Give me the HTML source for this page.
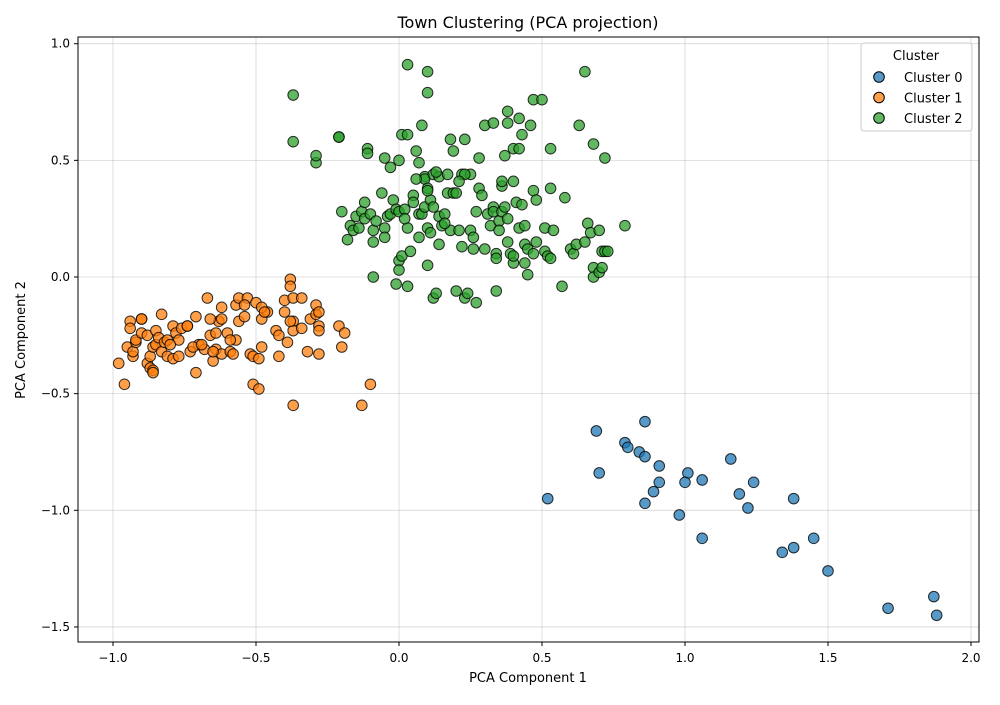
<!DOCTYPE html>
<html><head><meta charset="utf-8"><style>
body{margin:0;background:#fff;font-family:"Liberation Sans","DejaVu Sans",sans-serif}
svg text{font-family:"DejaVu Sans","Liberation Sans",sans-serif}
</style></head><body>
<svg id="chart" width="1000" height="700" viewBox="0 0 1000 700" xmlns="http://www.w3.org/2000/svg">
<rect width="1000" height="700" fill="#fff"/>
<g id="grid"></g>
<g id="points"></g>
<rect x="78" y="37" width="901" height="605" fill="none" stroke="#000" stroke-width="1"/>
<g id="axes"></g>
<text x="528" y="28" text-anchor="middle" font-size="16">Town Clustering (PCA projection)</text>
<text x="528" y="682" text-anchor="middle" font-size="13">PCA Component 1</text>
<text transform="translate(25,340) rotate(-90)" text-anchor="middle" font-size="13">PCA Component 2</text>
<g id="legend">
<rect x="861" y="43" width="111" height="88" rx="3" fill="#fff" fill-opacity="0.8" stroke="#ccc"/>
<text x="916" y="60" text-anchor="middle" font-size="13">Cluster</text>
</g>
</svg>
<script>
const xTicks=[-1.0,-0.5,0.0,0.5,1.0,1.5,2.0];
const yTicks=[1.0,0.5,0.0,-0.5,-1.0,-1.5];
const seriesNames=["Cluster 0","Cluster 1","Cluster 2"];
const seriesColors=["#1f77b4","#ff7f0e","#2ca02c"];
const c0x=[0.52,0.69,0.70,0.79,0.80,0.84,0.86,0.86,0.86,0.89,0.91,0.91,0.98,1.01,1.00,1.06,1.06,1.16,1.19,1.24,1.22,1.34,1.38,1.45,1.50,1.38,1.71,1.87,1.88];
const c0y=[-0.95,-0.66,-0.84,-0.71,-0.73,-0.75,-0.62,-0.77,-0.97,-0.92,-0.81,-0.88,-1.02,-0.84,-0.88,-1.12,-0.87,-0.78,-0.93,-0.88,-0.99,-1.18,-1.16,-1.12,-1.26,-0.95,-1.42,-1.37,-1.45];
const c1x=[-0.98,-0.96,-0.95,-0.94,-0.94,-0.93,-0.93,-0.92,-0.92,-0.90,-0.90,-0.88,-0.88,-0.87,-0.87,-0.86,-0.86,-0.85,-0.85,-0.84,-0.83,-0.83,-0.82,-0.81,-0.81,-0.79,-0.79,-0.78,-0.77,-0.76,-0.74,-0.73,-0.71,-0.71,-0.70,-0.68,-0.67,-0.66,-0.65,-0.64,-0.64,-0.63,-0.62,-0.62,-0.60,-0.59,-0.58,-0.57,-0.57,-0.56,-0.56,-0.54,-0.53,-0.52,-0.51,-0.51,-0.50,-0.49,-0.49,-0.48,-0.48,-0.46,-0.43,-0.42,-0.42,-0.40,-0.39,-0.38,-0.38,-0.37,-0.37,-0.37,-0.37,-0.34,-0.34,-0.32,-0.31,-0.29,-0.29,-0.28,-0.28,-0.28,-0.21,-0.20,-0.19,-0.10,-0.13,-0.54,-0.66,-0.77,-0.48,-0.40,-0.38,-0.90,-0.86,-0.80,-0.74,-0.72,-0.69,-0.65,-0.62,-0.59,-0.47,-0.28];
const c1y=[-0.37,-0.46,-0.30,-0.19,-0.22,-0.34,-0.32,-0.28,-0.27,-0.24,-0.18,-0.25,-0.37,-0.34,-0.39,-0.30,-0.40,-0.23,-0.29,-0.26,-0.32,-0.16,-0.28,-0.34,-0.27,-0.21,-0.35,-0.24,-0.27,-0.22,-0.21,-0.32,-0.17,-0.41,-0.29,-0.31,-0.09,-0.25,-0.36,-0.31,-0.24,-0.19,-0.13,-0.33,-0.24,-0.32,-0.33,-0.12,-0.27,-0.09,-0.19,-0.17,-0.09,-0.33,-0.46,-0.34,-0.11,-0.35,-0.48,-0.30,-0.18,-0.15,-0.23,-0.25,-0.34,-0.10,-0.28,-0.01,-0.04,-0.09,-0.19,-0.23,-0.55,-0.22,-0.09,-0.32,-0.18,-0.16,-0.12,-0.21,-0.33,-0.15,-0.21,-0.30,-0.24,-0.46,-0.55,-0.12,-0.18,-0.34,-0.13,-0.15,-0.19,-0.18,-0.41,-0.29,-0.21,-0.30,-0.29,-0.32,-0.18,-0.27,-0.15,-0.23];
const c2x=[-0.37,-0.37,-0.29,-0.29,-0.21,-0.21,0.03,0.10,0.10,0.65,0.47,0.50,0.63,0.68,0.72,0.79,
-0.11,-0.11,-0.05,-0.03,0.00,0.01,0.03,0.06,0.07,0.08,0.09,0.09,0.12,0.14,0.17,0.18,0.19,0.22,0.23,0.25,0.28,0.30,0.33,0.37,0.38,0.38,0.40,0.42,0.43,0.42,0.46,0.53,0.36,0.36,0.40,0.47,0.48,0.53,0.58,
-0.20,-0.18,-0.17,-0.16,-0.15,-0.14,-0.13,-0.12,-0.12,-0.10,-0.09,-0.09,-0.08,-0.06,-0.05,-0.05,-0.04,-0.03,-0.02,-0.01,0.00,0.00,0.00,0.01,0.02,0.03,0.04,0.05,0.05,0.06,0.07,0.07,0.08,0.09,0.10,0.10,0.11,0.11,0.12,0.13,0.14,0.14,0.15,0.16,0.17,0.18,0.19,0.20,0.21,0.22,0.23,0.25,0.26,0.26,0.27,0.28,0.29,0.31,0.32,0.33,0.33,0.34,0.34,0.35,0.35,0.36,0.37,0.38,0.38,0.39,0.40,0.41,0.42,0.43,0.44,0.44,0.45,0.45,0.47,0.48,0.51,0.51,0.52,0.53,0.54,0.57,0.60,0.61,0.62,0.65,0.66,0.67,0.68,0.68,0.70,0.70,0.71,0.71,0.72,0.73,
-0.09,-0.01,0.03,0.10,0.12,0.13,0.20,0.23,0.24,0.27,0.34,0.30,0.21,0.10,0.44,0.40,0.16,0.02];
const c2y=[0.78,0.58,0.49,0.52,0.60,0.60,0.91,0.88,0.79,0.88,0.76,0.76,0.65,0.57,0.51,0.22,
0.55,0.53,0.51,0.47,0.50,0.61,0.61,0.54,0.49,0.65,0.43,0.42,0.44,0.43,0.44,0.59,0.54,0.44,0.59,0.44,0.51,0.65,0.66,0.52,0.66,0.71,0.55,0.68,0.61,0.55,0.65,0.55,0.39,0.41,0.41,0.37,0.33,0.38,0.34,
0.28,0.16,0.22,0.20,0.26,0.21,0.28,0.32,0.25,0.27,0.20,0.15,0.24,0.36,0.21,0.17,0.26,0.27,0.33,0.29,0.28,0.07,0.03,0.09,0.29,0.21,0.11,0.35,0.32,0.42,0.27,0.17,0.27,0.30,0.21,0.38,0.33,0.19,0.30,0.45,0.26,0.14,0.22,0.27,0.36,0.20,0.36,0.36,0.20,0.13,0.44,0.20,0.17,0.12,0.28,0.38,0.35,0.27,0.22,0.30,0.28,0.10,0.08,0.24,0.20,0.28,0.30,0.15,0.25,0.10,0.06,0.32,0.21,0.31,0.14,0.06,0.12,0.01,0.10,0.15,0.21,0.11,0.09,0.08,0.20,-0.04,0.12,0.10,0.14,0.15,0.23,0.19,0.04,0.00,0.20,0.02,0.04,0.11,0.11,0.11,
0.00,-0.03,-0.04,0.05,-0.09,-0.07,-0.06,-0.09,-0.07,-0.11,-0.06,0.12,0.41,0.37,0.22,0.09,0.23,0.25];

const NS="http://www.w3.org/2000/svg";
const sx=v=>399+v*286;
const sy=v=>277-v*233.3;
function mk(tag,attrs,parent){const e=document.createElementNS(NS,tag);for(const k in attrs)e.setAttribute(k,attrs[k]);parent.appendChild(e);return e;}
const grid=document.getElementById('grid'),axes=document.getElementById('axes'),pts=document.getElementById('points');
xTicks.forEach(t=>{
  const x=sx(t);
  const g=mk('line',{x1:x,x2:x,y1:37,y2:642,stroke:'#b0b0b0','stroke-opacity':0.5,'stroke-width':0.8},grid);
  
  
  const tk=mk('line',{x1:x,x2:x,y1:642,y2:646,stroke:'#000'},axes);
  
  
  const tx=mk('text',{x:x,y:662,'text-anchor':'middle','font-size':12},axes);
  tx.textContent=(t<0?'\u2212':'')+Math.abs(t).toFixed(1);
  
  
});
yTicks.forEach(t=>{
  const y=sy(t);
  const g=mk('line',{x1:78,x2:979,y1:y,y2:y,stroke:'#b0b0b0','stroke-opacity':0.5,'stroke-width':0.8},grid);
  
  
  const tk=mk('line',{x1:74,x2:78,y1:y,y2:y,stroke:'#000'},axes);
  
  
  const tx=mk('text',{x:70,y:y+4,'text-anchor':'end','font-size':12},axes);
  tx.textContent=(t<0?'\u2212':'')+Math.abs(t).toFixed(1);
  
  
});
const series=[[c0x,c0y],[c1x,c1y],[c2x,c2y]];
series.forEach((s,i)=>{
  s[0].forEach((xv,j)=>{
    const c=mk('circle',{cx:sx(xv),cy:sy(s[1][j]),r:5.3,fill:seriesColors[i],'fill-opacity':0.75,stroke:'#000','stroke-opacity':0.8,'stroke-width':1},pts);
    
    
  });
});
const lg=document.getElementById('legend');
seriesNames.forEach((n,i)=>{
  const y=77+i*20.5;
  const c=mk('circle',{cx:879,cy:y,r:5.3,fill:seriesColors[i],'fill-opacity':0.75,stroke:'#000','stroke-width':1},lg);
  
  
  const t=mk('text',{x:904,y:y+5,'font-size':13},lg);
  t.textContent=n;
  
  
});
</script>
</body></html>
